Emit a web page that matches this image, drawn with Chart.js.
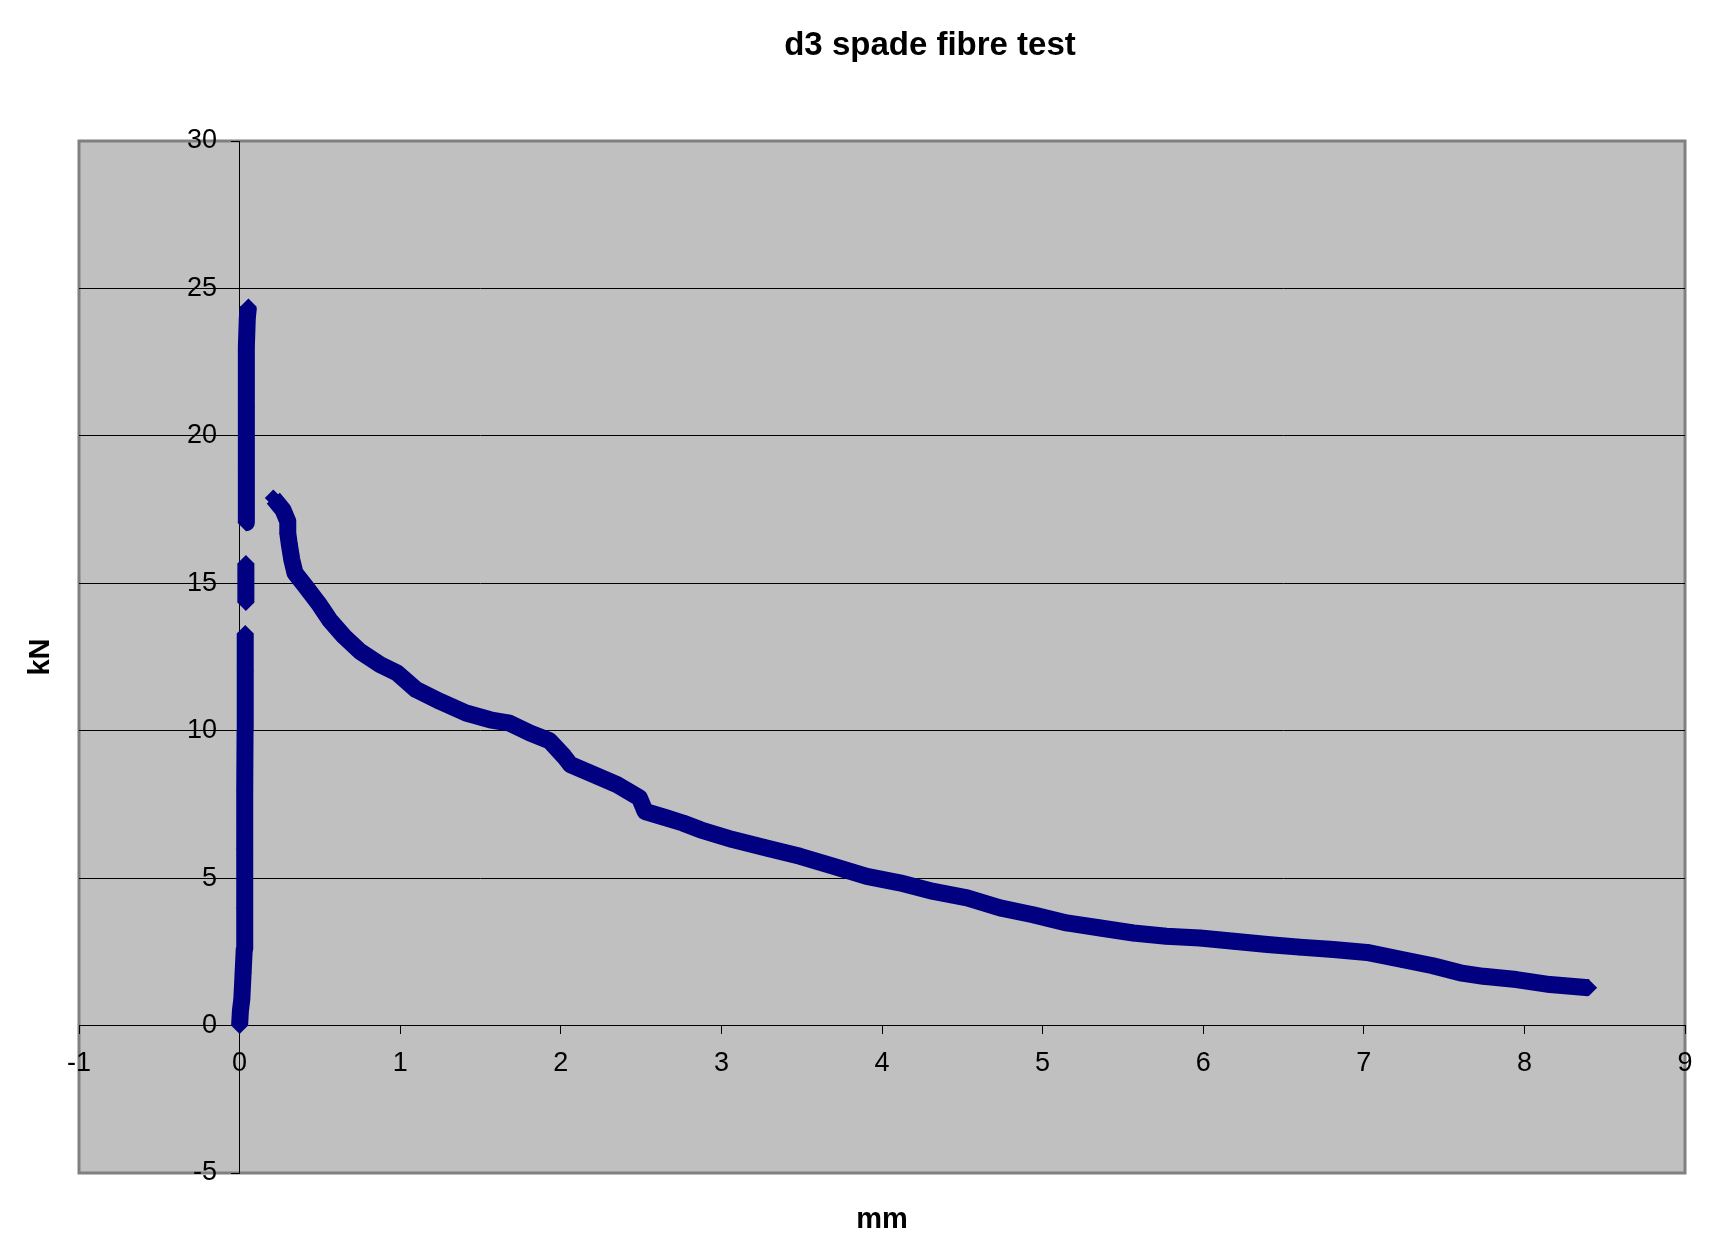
<!DOCTYPE html>
<html lang="en">
<head>
    <meta charset="UTF-8">
    <title>d3 spade fibre test</title>
    <script src="https://cdn.jsdelivr.net/npm/chart.js"></script>
    <style>
        body { margin: 0; background: #ffffff; }
        canvas { display: block; }
    </style>
</head>
<body>
    <canvas id="myChart" width="1711" height="1247"></canvas>

    <script>
        // Labels
        const chartTitle = 'd3 spade fibre test';
        const xTitle = 'mm';
        const yTitle = 'kN';

        // Tick labels
        const mmTicks = [-1, 0, 1, 2, 3, 4, 5, 6, 7, 8, 9];
        const kNTicks = [-5, 0, 5, 10, 15, 20, 25, 30];

        // Displacement (mm) and load (kN), null = gap in the trace
        const mm = [
            0.000, 0.005, 0.014, 0.022, 0.029, 0.031, 0.032, 0.033, 0.034, 0.035, 0.035, null,
            0.039, 0.039, 0.039, null,
            0.040, 0.041, 0.042, 0.043, 0.048, 0.055, null,
            0.21, 0.27, 0.30, 0.30, 0.31, 0.325, 0.345, 0.41, 0.49, 0.56, 0.65, 0.75, 0.875, 0.98,
            1.10, 1.25, 1.41, 1.56, 1.68, 1.81, 1.93, 2.02, 2.06, 2.18, 2.35, 2.49, 2.525, 2.66,
            2.76, 2.87, 3.07, 3.28, 3.49, 3.70, 3.905, 4.11, 4.32, 4.53, 4.735, 4.94, 5.15, 5.36,
            5.565, 5.77, 5.98, 6.19, 6.40, 6.60, 6.81, 7.02, 7.23, 7.43, 7.60, 7.745, 7.95, 8.16, 8.40
        ];
        const kN = [
            0.0, 0.5, 0.9, 1.8, 2.6, 4.0, 6.0, 8.0, 10.0, 12.0, 13.3, null,
            14.35, 15.0, 15.67, null,
            17.05, 19.0, 21.0, 23.0, 24.0, 24.37, null,
            17.89, 17.49, 17.1, 16.7, 16.3, 15.8, 15.35, 14.9, 14.33, 13.76, 13.2, 12.69, 12.24, 11.96,
            11.39, 10.99, 10.6, 10.37, 10.26, 9.92, 9.66, 9.13, 8.85, 8.57, 8.17, 7.72, 7.26, 7.04,
            6.87, 6.64, 6.31, 6.02, 5.74, 5.4, 5.06, 4.84, 4.55, 4.33, 3.99, 3.76, 3.48, 3.31,
            3.14, 3.03, 2.97, 2.86, 2.75, 2.66, 2.58, 2.48, 2.25, 2.03, 1.79, 1.67, 1.56, 1.39, 1.28
        ];

        const points = mm.map((x, i) => ({ x: x, y: kN[i] }));
        const tickFont = { family: '"Liberation Sans", Arial, sans-serif', size: 27 };
        const kNMin = kNTicks[0];
        const kNMax = kNTicks[kNTicks.length - 1];

        // grey plot area with its frame, drawn first so tick labels can sit on top
        const plotBackground = {
            id: 'plotBackground',
            beforeDraw(chart) {
                const { ctx, chartArea: a } = chart;
                ctx.save();
                ctx.fillStyle = '#c0c0c0';
                ctx.fillRect(a.left, a.top, a.right - a.left, a.bottom - a.top);
                ctx.strokeStyle = '#808080';
                ctx.lineWidth = 3;
                ctx.strokeRect(a.left, a.top, a.right - a.left, a.bottom - a.top);
                ctx.restore();
            }
        };

        // title + axis titles (axes cross at 0 so titles sit at the edges)
        const titles = {
            id: 'titles',
            afterDraw(chart) {
                const { ctx, chartArea: a } = chart;
                ctx.save();
                ctx.fillStyle = '#000000';
                ctx.textAlign = 'center';
                ctx.textBaseline = 'alphabetic';
                ctx.font = 'bold 33px "Liberation Sans", Arial, sans-serif';
                ctx.fillText(chartTitle, 930, 55);

                ctx.font = 'bold 29px "Liberation Sans", Arial, sans-serif';
                ctx.fillText(xTitle, (a.left + a.right) / 2, 1228);

                ctx.translate(49, (a.top + a.bottom) / 2);
                ctx.rotate(-Math.PI / 2);
                ctx.fillText(yTitle, 0, 0);
                ctx.restore();
            }
        };

        const ctx = document.getElementById('myChart').getContext('2d');
        new Chart(ctx, {
            type: 'scatter',
            data: {
                datasets: [{
                    label: 'd3',
                    data: points,
                    xAxisID: 'x',
                    yAxisID: 'y',
                    showLine: true,
                    spanGaps: false,
                    borderColor: '#000080',
                    backgroundColor: '#000080',
                    borderWidth: 17,
                    borderJoinStyle: 'round',
                    borderCapStyle: 'butt',
                    tension: 0,
                    pointStyle: 'rectRot',
                    pointRadius: 8.5,
                    pointBorderWidth: 0,
                    pointHoverRadius: 8.5
                }]
            },
            options: {
                responsive: false,
                animation: false,
                layout: {
                    padding: { left: 79, right: 26, top: 141, bottom: 74 }
                },
                plugins: {
                    legend: { display: false },
                    title: { display: false },
                    tooltip: { enabled: false }
                },
                scales: {
                    x: {
                        type: 'linear',
                        position: { y: 0 },
                        min: mmTicks[0],
                        max: mmTicks[mmTicks.length - 1],
                        afterBuildTicks: s => { s.ticks = mmTicks.map(v => ({ value: v })); },
                        grid: {
                            drawOnChartArea: false,
                            drawTicks: true,
                            tickLength: 8,
                            color: '#000000',
                            lineWidth: 1
                        },
                        border: { display: true, color: '#000000', width: 1 },
                        ticks: {
                            color: '#000000',
                            padding: 14,
                            maxRotation: 0,
                            autoSkip: false,
                            font: tickFont
                        }
                    },
                    // axis line, grid and tick marks at mm = 0
                    y: {
                        type: 'linear',
                        position: { x: 0 },
                        min: kNMin,
                        max: kNMax,
                        afterBuildTicks: s => { s.ticks = kNTicks.map(v => ({ value: v })); },
                        grid: {
                            drawOnChartArea: true,
                            drawTicks: true,
                            tickLength: 8,
                            // no black line over the grey frame at top and bottom
                            color: c => (c.tick && (c.tick.value === kNMin || c.tick.value === kNMax)) ? 'rgba(0,0,0,0)' : '#000000',
                            tickColor: '#000000',
                            lineWidth: 1
                        },
                        border: { display: true, color: '#000000', width: 1 },
                        ticks: { display: false }
                    },
                    // the kN labels, a little left of the crossing axis
                    yLabels: {
                        axis: 'y',
                        type: 'linear',
                        position: { x: -0.14 },
                        min: kNMin,
                        max: kNMax,
                        afterBuildTicks: s => { s.ticks = kNTicks.map(v => ({ value: v })); },
                        grid: { display: false },
                        border: { display: false },
                        ticks: {
                            color: '#000000',
                            autoSkip: false,
                            font: tickFont
                        }
                    }
                }
            },
            plugins: [plotBackground, titles]
        });
    </script>
</body>
</html>
